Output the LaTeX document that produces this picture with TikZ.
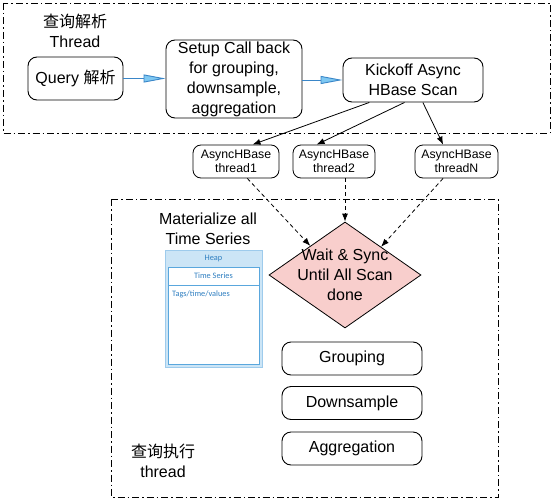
\documentclass[tikz,border=0pt]{standalone}
\usepackage{fontspec}
\setmainfont{Liberation Sans}
\newfontfamily\cjk{Noto Sans CJK SC}
\newfontfamily\heapfont{Carlito}
\usetikzlibrary{arrows.meta,shapes.geometric,calc}
\definecolor{bluearr}{HTML}{3A86C8}
\definecolor{bluetip}{HTML}{7EC8F2}
\definecolor{pinkfill}{HTML}{F8CECC}
\definecolor{heapfill}{HTML}{CCE5F6}
\definecolor{heapline}{HTML}{9ECBEC}
\definecolor{heapinner}{HTML}{5AA7DD}
\definecolor{heaptext}{HTML}{2F7FC1}
\begin{document}
\begin{tikzpicture}[x=1pt,y=-1pt,
  dashdot/.style={line width=0.9pt, dash pattern=on 7pt off 3pt on 1.5pt off 3pt},
  bigfont/.style={font=\fontsize{16}{20}\selectfont},
  rbox/.style={draw, rounded corners=9pt, line width=0.9pt, align=center, inner sep=0pt, bigfont},
  tbox/.style={draw, rounded corners=8pt, line width=0.8pt, align=center, inner sep=0pt,
    minimum height=33pt, font=\fontsize{12.3}{14.5}\selectfont},
  lbl/.style={align=center, inner sep=0pt, bigfont},
  bluearrow/.style={draw=bluearr, line width=0.9pt, -{Triangle[length=22pt,width=8pt,fill=bluetip]}},
  blackarrow/.style={line width=0.8pt, -{Latex[length=8pt,width=6pt]}},
  dasharrow/.style={line width=0.8pt, dashed, dash pattern=on 4pt off 3pt, -{Latex[length=8pt,width=6pt]}},
  heaptxt/.style={text=heaptext, inner sep=0pt, font=\heapfont\fontsize{8.3}{10}\selectfont}
]
\useasboundingbox (0,0) rectangle (553,500);
\fill[white] (0,0) rectangle (553,500);

% frames
\draw[dashdot] (3,3) rectangle (550,133);
\draw[dashdot] (111,199) rectangle (498,497);

% top row
\node[lbl] (title1) at (75,31) {{\cjk 查询解析}\\Thread};
\node[rbox, minimum width=95pt, minimum height=43pt] (query) at (75.5,78.5) {Query {\cjk 解析}};
\node[rbox, minimum width=136pt, minimum height=78pt] (setup) at (234,79) {Setup Call back\\for grouping,\\downsample,\\aggregation};
\node[rbox, minimum width=140pt, minimum height=44pt] (kick) at (413,80) {Kickoff Async\\HBase Scan};

\draw[bluearrow] (query.east) -- (query.east -| setup.west);
\draw[bluearrow] (setup.east |- kick.west) -- (kick.west);

% thread boxes
\node[tbox, minimum width=86pt] (t1) at (236,161.5) {AsyncHBase\\thread1};
\node[tbox, minimum width=82pt] (t2) at (334,161.5) {AsyncHBase\\thread2};
\node[tbox, minimum width=83pt] (tN) at (456.5,161.5) {AsyncHBase\\threadN};

\draw[blackarrow] ($(kick.south west)!0.19!(kick.south east)$) -- ($(t1.north west)!0.69!(t1.north east)$);
\draw[blackarrow] ($(kick.south west)!0.44!(kick.south east)$) -- ($(t2.north west)!0.29!(t2.north east)$);
\draw[blackarrow] ($(kick.south west)!0.57!(kick.south east)$) -- ($(tN.north west)!0.34!(tN.north east)$);

% lower part
\node[lbl] (mat) at (208,229) {Materialize all\\Time Series};

\node[diamond, draw, fill=pinkfill, line width=0.8pt, minimum width=152pt, minimum height=106pt, inner sep=0pt] (dia) at (345,275) {};
\node[lbl] (diatext) at (dia.center) {Wait \& Sync\\Until All Scan\\done};

\draw[dasharrow] ($(t1.south west)!0.63!(t1.south east)$) -- (dia.140);
\draw[dasharrow] (dia.north |- t2.south) -- (dia.north);
\draw[dasharrow] ($(tN.south west)!0.34!(tN.south east)$) -- (dia.38);

% heap panel
\filldraw[fill=heapfill, draw=heapline, line width=0.8pt] (165,250) rectangle (262,367);
\filldraw[fill=white, draw=heapinner, line width=0.6pt] (168,267) rectangle (259,364);
\draw[heapinner, line width=0.6pt] (168,285) -- (259,285);
\node[heaptxt] (heap) at (213.5,258.5) {Heap};
\node[heaptxt] (ts) at (213.5,276) {Time Series};
\node[heaptxt, anchor=west] (tags) at (172,294) {Tags/time/values};

\node[rbox, minimum width=140pt, minimum height=33pt] (grp) at (352,358.5) {Grouping};
\node[rbox, minimum width=140pt, minimum height=33pt] (down) at (352,403) {Downsample};
\node[rbox, minimum width=140pt, minimum height=33pt] (agg) at (352,448.5) {Aggregation};

\node[lbl] (title2) at (163,461) {{\cjk 查询执行}\\thread};
\end{tikzpicture}
\end{document}
